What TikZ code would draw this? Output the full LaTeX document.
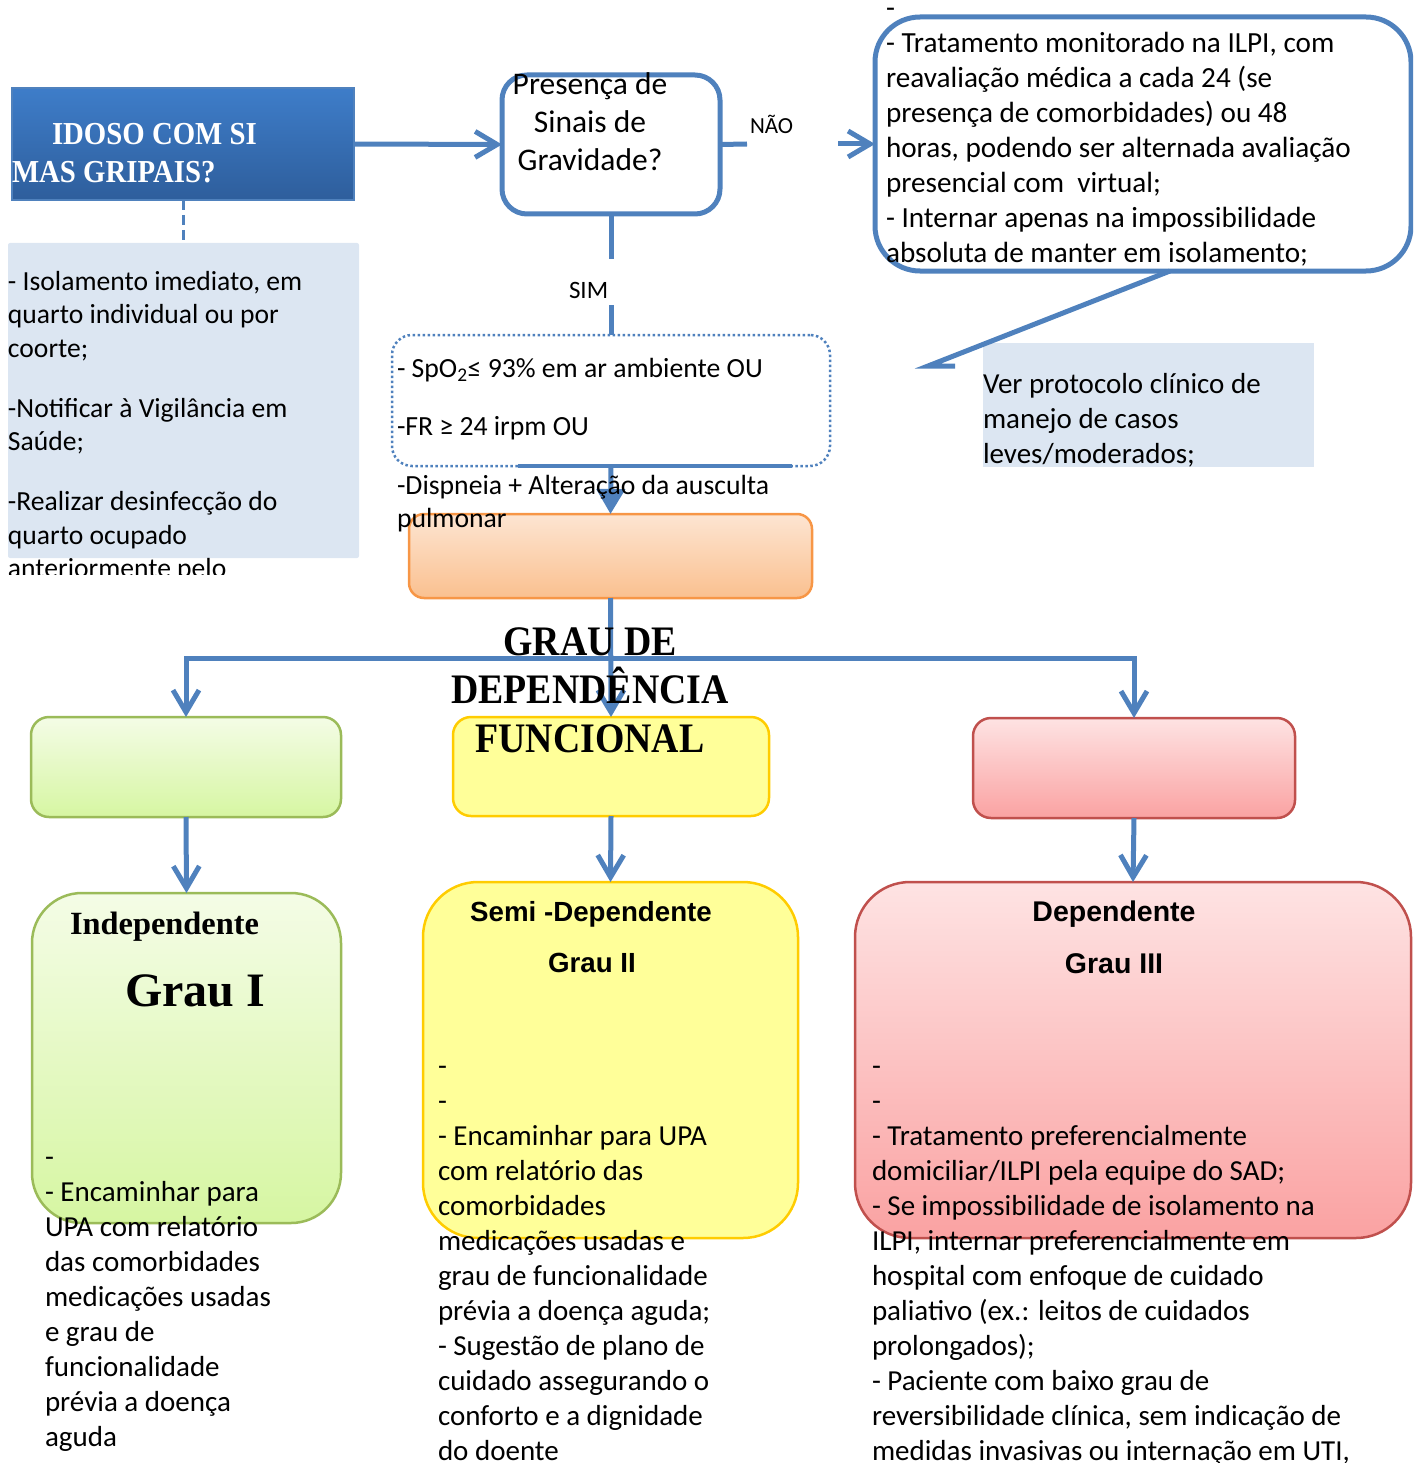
\documentclass[tikz,border=0pt]{standalone}
\usepackage{fontspec}
\setmainfont{Carlito}
\newfontfamily\condserif[FakeStretch=0.9]{Liberation Serif}
\newfontfamily\bserif{Liberation Serif}
\newfontfamily\bsans{Liberation Sans}
\usetikzlibrary{arrows.meta}
\definecolor{lnblue}{HTML}{4F81BD}
\definecolor{idtop}{HTML}{3E7DC9}
\definecolor{idbot}{HTML}{2E5E9C}
\definecolor{paleblue}{HTML}{DCE6F2}
\definecolor{ortop}{HTML}{FDE5D2}
\definecolor{orbot}{HTML}{FAC08F}
\definecolor{orbd}{HTML}{F79646}
\definecolor{gntop}{HTML}{F4FCE6}
\definecolor{gnbot}{HTML}{D6F6A2}
\definecolor{gnbd}{HTML}{9BBB59}
\definecolor{yl}{HTML}{FFFF99}
\definecolor{ylbd}{HTML}{FFCC00}
\definecolor{rdtop}{HTML}{FEE3E3}
\definecolor{rdbot}{HTML}{FAA2A2}
\definecolor{rdbd}{HTML}{C0504D}
\tikzset{
  box/.style={anchor=north west, inner sep=0pt, outer sep=0pt},
  conn/.style={draw=lnblue, line width=5pt},
  arr/.style={-{Straight Barb[length=22pt,width=26pt]}},
  tri/.style={-{Triangle[length=25pt,width=28pt]}},
  txt/.style={anchor=base west, inner sep=0pt, outer sep=0pt},
  ctxt/.style={anchor=base, inner sep=0pt, outer sep=0pt},
}
\begin{document}
\begin{tikzpicture}[x=1pt,y=-1pt]
\useasboundingbox (0,0) rectangle (1413,1463);
\clip (0,0) rectangle (1413,1463);

% ---------- boxes ----------
\node[box, minimum width=342pt, minimum height=112pt, draw=lnblue, line width=2pt,
      top color=idtop, bottom color=idbot] (idoso) at (12,88) {};
\node[box, minimum width=351pt, minimum height=315pt, fill=paleblue, rounded corners=2pt] (leftbox) at (8,243) {};
\node[box, minimum width=218pt, minimum height=139pt, draw=lnblue, line width=5pt,
      rounded corners=25pt, fill=white] (pres) at (502,75) {};
\node[box, minimum width=536pt, minimum height=254pt, draw=lnblue, line width=5pt,
      rounded corners=45pt] (trat) at (875,17) {};
\node[box, minimum width=331pt, minimum height=124pt, fill=paleblue] (ver) at (983,343) {};
\node[box, minimum width=438pt, minimum height=131pt, draw=lnblue, line width=2.5pt,
      dash pattern=on 2.5pt off 2.5pt, rounded corners=20pt] (dot) at (392,335) {};
\node[box, minimum width=403pt, minimum height=84pt, draw=orbd, line width=2.5pt,
      rounded corners=15pt, top color=ortop, bottom color=orbot] (orange) at (409,514) {};
\node[box, minimum width=310pt, minimum height=100pt, draw=gnbd, line width=2.5pt,
      rounded corners=18pt, top color=gntop, bottom color=gnbot] (green1) at (31,717) {};
\node[box, minimum width=316pt, minimum height=99pt, draw=ylbd, line width=2.5pt,
      rounded corners=18pt, fill=yl] (yellow1) at (453,717) {};
\node[box, minimum width=322pt, minimum height=100pt, draw=rdbd, line width=2.5pt,
      rounded corners=18pt, top color=rdtop, bottom color=rdbot] (red1) at (973,718) {};
\node[box, minimum width=309pt, minimum height=330pt, draw=gnbd, line width=2.5pt,
      rounded corners=50pt, top color=gntop, bottom color=gnbot] (green2) at (32,893) {};
\node[box, minimum width=375pt, minimum height=356pt, draw=ylbd, line width=2.5pt,
      rounded corners=55pt, fill=yl] (yellow2) at (423,882) {};
\node[box, minimum width=556pt, minimum height=356pt, draw=rdbd, line width=2.5pt,
      rounded corners=55pt, top color=rdtop, bottom color=rdbot] (red2) at (855,882) {};

% ---------- connectors ----------
\coordinate (naoA) at (747,144);
\coordinate (naoB) at (838,144);
\coordinate (simA) at (611,259);
\coordinate (simB) at (611,305);
\coordinate (dgB) at (928,366);
\coordinate (dgC) at (955,366);
\coordinate (hy) at (0,658);

\draw[conn, arr] (idoso.east) -- (pres.west);
\draw[lnblue, line width=3pt, dash pattern=on 10pt off 5pt] (idoso.south) -- (leftbox.north -| idoso.south);
\draw[conn] (pres.east) -- (naoA);
\draw[conn, arr] (naoB) -- (trat.west);
\draw[lnblue, line width=5pt] ([xshift=27pt]trat.south) -- (dgB) -- (dgC);
\draw[conn] (pres.south) -- (simA);
\draw[conn] (simB) -- (dot.north);
\draw[lnblue, line width=3.5pt] ([xshift=126pt]dot.south west) -- ([xshift=-38pt]dot.south east);
\draw[conn, tri] (dot.south) -- (orange.north);
\draw[conn, arr] (orange.south) -- (yellow1.north);
\draw[conn, arr] (orange.south |- hy) -| (green1.north);
\draw[conn, arr] (orange.south |- hy) -| (red1.north);
\draw[conn, arr] (green1.south) -- (green2.north);
\draw[conn, arr] (yellow1.south) -- (yellow2.north);
\draw[conn, arr] (red1.south) -- (red2.north);

% ---------- texts ----------
\node[txt, text=white] (tidoso) at (12,145) {\parbox[t]{400pt}{\condserif\bfseries\fontsize{32}{38}\selectfont
  \hspace*{40pt}IDOSO COM SI\\MAS GRIPAIS?}};

\begin{scope}
\clip (0,0) rectangle (380,574);
\node[txt] (tleft) at (8,290) {\parbox[t]{400pt}{\raggedright\fontsize{27.6}{33.5}\selectfont
  - Isolamento imediato, em\\quarto individual ou por\\coorte;\\[26.5pt]-Notificar à Vigilância em\\Saúde;\\[26.5pt]-Realizar desinfecção do\\quarto ocupado\\anteriormente pelo}};
\end{scope}

\node[ctxt] (tpres) at (590,95) {\parbox[t]{300pt}{\centering\fontsize{31.5}{38}\selectfont
  Presença de\\Sinais de\\Gravidade?}};
\node[txt] (tnao) at (750,134) {\fontsize{23}{28}\selectfont NÃO};
\node[txt] (tsim) at (569,298) {\fontsize{25}{30}\selectfont SIM};

\node[txt] (ttrat) at (886,18) {\parbox[t]{560pt}{\raggedright\fontsize{29.2}{35}\selectfont
  -\\- Tratamento monitorado na ILPI, com\\reavaliação médica a cada 24 (se\\presença de comorbidades) ou 48\\horas, podendo ser alternada avaliação\\presencial com~ virtual;\\- Internar apenas na impossibilidade\\absoluta de manter em isolamento;}};

\node[txt] (tver) at (983,393) {\parbox[t]{400pt}{\raggedright\fontsize{29}{35}\selectfont
  Ver protocolo clínico de\\manejo de casos\\leves/moderados;}};

\node[txt] (tdot) at (397,377) {\parbox[t]{500pt}{\raggedright\fontsize{27.7}{33}\selectfont
  - SpO\textsubscript{2}≤ 93\% em ar ambiente OU\\[25pt]-FR ≥ 24 irpm OU\\[26pt]-Dispneia + Alteração da ausculta\\pulmonar}};

\node[ctxt] (tgrau) at (590,655) {\parbox[t]{500pt}{\centering\condserif\bfseries\fontsize{42}{48.5}\selectfont
  GRAU DE\\DEPENDÊNCIA\\FUNCIONAL}};

\node[txt] (tind) at (70,934) {\bserif\bfseries\fontsize{32.4}{38}\selectfont Independente};
\node[txt] (tg1) at (125,1006) {\bserif\bfseries\fontsize{48}{56}\selectfont Grau I};
\node[txt] (tgreen) at (45,1166) {\parbox[t]{400pt}{\raggedright\fontsize{29}{35.1}\selectfont
  -\\- Encaminhar para\\UPA com relatório\\das comorbidades\\medicações usadas\\e grau de\\funcionalidade\\prévia a doença\\aguda}};

\node[ctxt] (tsemi) at (591,921) {\bsans\bfseries\fontsize{27.7}{33}\selectfont Semi -Dependente};
\node[ctxt] (tg2) at (592,972) {\bsans\bfseries\fontsize{27.7}{33}\selectfont Grau II};
\node[txt] (tyellow) at (438,1075) {\parbox[t]{400pt}{\raggedright\fontsize{29}{35}\selectfont
  -\\-\\- Encaminhar para UPA\\com relatório das\\comorbidades\\medicações usadas e\\grau de funcionalidade\\prévia a doença aguda;\\- Sugestão de plano de\\cuidado assegurando o\\conforto e a dignidade\\do doente}};

\node[ctxt] (tdep) at (1114,921) {\bsans\bfseries\fontsize{28.5}{34}\selectfont Dependente};
\node[ctxt] (tg3) at (1114,973) {\bsans\bfseries\fontsize{28.5}{34}\selectfont Grau III};
\node[txt] (tred) at (872,1075) {\parbox[t]{560pt}{\raggedright\fontsize{29}{35}\selectfont
  -\\-\\- Tratamento preferencialmente\\domiciliar/ILPI pela equipe do SAD;\\- Se impossibilidade de isolamento na\\ILPI, internar preferencialmente em\\hospital com enfoque de cuidado\\paliativo (ex.: leitos de cuidados\\prolongados);\\- Paciente com baixo grau de\\reversibilidade clínica, sem indicação de\\medidas invasivas ou internação em UTI,}};
\end{tikzpicture}
\end{document}
